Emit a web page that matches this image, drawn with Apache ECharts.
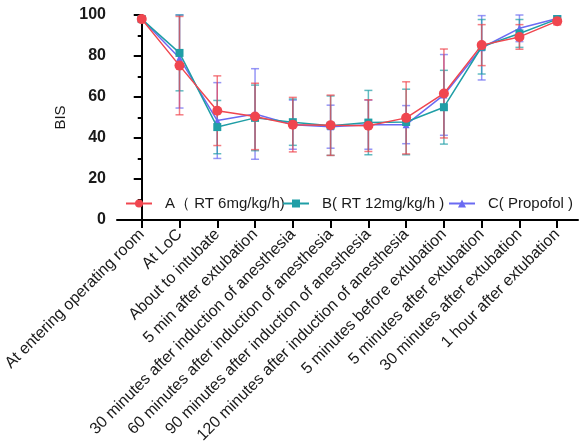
<!DOCTYPE html>
<html>
<head>
<meta charset="utf-8">
<script src="https://cdn.jsdelivr.net/npm/echarts@6/dist/echarts.min.js"></script>
<style>html,body{margin:0;padding:0;background:#fff}#c{width:582px;height:446px}</style>
</head>
<body>
<div id="c"></div>
<script>
const categories = ["At entering operating room","At LoC","About to intubate","5 min after extubation","30 minutes after induction of anesthesia","60 minutes after induction of anesthesia","90 minutes after induction of anesthesia","120 minutes after induction of anesthesia","5 minutes before extubation","5 minutes after extubation","30 minutes after extubation","1 hour after extubation"];
const seriesNames = ["A\uFF08 RT 6mg/kg/h)","B( RT 12mg/kg/h )","C( Propofol )"];
const meanA = [98, 75.3, 53.3, 50.5, 46.5, 46.2, 46.0, 49.8, 61.7, 85.3, 89.3, 97.0];
const sdA   = [1.3, 24.0, 17.0, 16.2, 13.3, 14.7, 12.6, 17.6, 21.7, 10.0, 6.0, 1.8];
const meanB = [98, 81.5, 45.3, 49.8, 47.7, 46.0, 47.5, 47.8, 55.0, 84.5, 91.0, 98.0];
const sdB   = [1.2, 18.5, 13.0, 16.0, 11.3, 14.5, 15.7, 16.0, 18.0, 13.3, 6.8, 1.5];
const meanC = [98, 79.0, 48.5, 51.7, 46.5, 45.5, 46.5, 46.5, 61.0, 84.0, 93.5, 98.3];
const sdC   = [1.2, 24.4, 18.5, 22.1, 12.0, 10.5, 12.0, 9.3, 19.7, 15.7, 6.5, 1.3];
const yTicks = [0, 20, 40, 60, 80, 100];

const colors = ['#f0464f', '#1f9ea6', '#6a6af2'];
const symbols = ['circle', 'rect', 'triangle'];
const symbolSizes = [10, 8, 7];
const means = [meanA, meanB, meanC];
const sds = [sdA, sdB, sdC];
const legendLefts = [125, 282, 448];

const chart = echarts.init(document.getElementById('c'));
const idx = categories.map((_, i) => i);
const series = [];
for (let s = 2; s >= 0; s--) {
  series.push({
    name: 'err' + s,
    type: 'custom',
    z: 2 + (2 - s),
    data: means[s].map((m, i) => [i, Math.max(0, m - sds[s][i]), Math.min(100, m + sds[s][i])]),
    renderItem: (function (col) {
      return function (params, api) {
        const x = api.value(0);
        const lo = api.coord([x, api.value(1)]);
        const hi = api.coord([x, api.value(2)]);
        const hw = 4;
        const st = { stroke: col, lineWidth: 1.5, opacity: 0.7 };
        return {
          type: 'group',
          children: [
            { type: 'line', shape: { x1: lo[0], y1: lo[1], x2: hi[0], y2: hi[1] }, style: st },
            { type: 'line', shape: { x1: lo[0] - hw, y1: lo[1], x2: lo[0] + hw, y2: lo[1] }, style: st },
            { type: 'line', shape: { x1: hi[0] - hw, y1: hi[1], x2: hi[0] + hw, y2: hi[1] }, style: st }
          ]
        };
      };
    })(colors[s]),
    silent: true
  });
}
for (let s = 2; s >= 0; s--) {
  series.push({
    name: seriesNames[s],
    type: 'line',
    z: 10 + (2 - s),
    symbol: symbols[s],
    symbolSize: symbolSizes[s],
    showAllSymbol: true,
    color: colors[s],
    lineStyle: { width: 1.5, color: colors[s] },
    itemStyle: { color: colors[s] },
    data: means[s].map((m, i) => [i, m])
  });
}

const font = 'Liberation Sans, Arial, sans-serif';
chart.setOption({
  animation: false,
  grid: { left: 113, right: 4, top: 15, bottom: 223, containLabel: false },
  legend: seriesNames.map((n, i) => ({
    data: [n],
    left: legendLefts[i], top: 196,
    padding: 0,
    itemWidth: 26, itemHeight: 10, itemGap: 0,
    textStyle: { fontFamily: font, fontSize: 15, color: '#1a1a1a', padding: [0, 0, 0, 8] }
  })),
  xAxis: {
    type: 'value',
    min: -0.655, max: 11.55,
    splitLine: { show: false },
    axisLine: { show: true, lineStyle: { color: '#000', width: 2 } },
    axisTick: { show: true, customValues: idx, length: 8, lineStyle: { color: '#000', width: 2 } },
    axisLabel: {
      customValues: idx,
      rotate: 45,
      margin: 12,
      fontFamily: font,
      fontSize: 16,
      color: '#1a1a1a',
      formatter: v => categories[Math.round(v)]
    }
  },
  yAxis: {
    type: 'value',
    min: 0, max: 100, interval: 20,
    name: 'BIS',
    nameLocation: 'middle',
    nameGap: 41,
    nameTextStyle: { fontFamily: font, fontSize: 15, color: '#1a1a1a' },
    splitLine: { show: false },
    axisLine: { show: true, lineStyle: { color: '#000', width: 2 } },
    axisTick: { show: true, length: 8, lineStyle: { color: '#000', width: 2 } },
    minorTick: { show: true, splitNumber: 2, length: 4, lineStyle: { color: '#000', width: 2 } },
    axisLabel: {
      margin: 11,
      fontFamily: font,
      fontSize: 16, fontWeight: 'bold', color: '#1a1a1a',
      customValues: yTicks
    }
  },
  series: series
});
</script>
</body>
</html>
